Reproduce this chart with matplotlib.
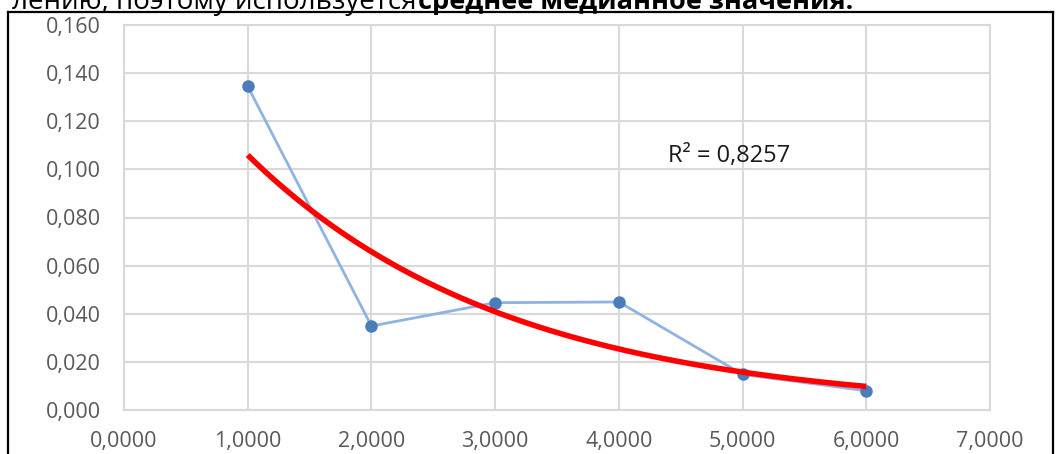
import numpy as np
import matplotlib
matplotlib.use("Agg")
import matplotlib.pyplot as plt
from matplotlib.lines import Line2D

x_vals = [1.0, 2.0, 3.0, 4.0, 5.0, 6.0]
y_vals = [0.1345, 0.0349, 0.0446, 0.0449, 0.0148, 0.0080]
x_ticks = [0, 1, 2, 3, 4, 5, 6, 7]
y_ticks = [0.0, 0.02, 0.04, 0.06, 0.08, 0.10, 0.12, 0.14, 0.16]
r2_label = "R² = 0,8257"
text_normal = "лению, поэтому используется"
text_bold = "среднее медианное значения."

W, H = 1056, 454
fig = plt.figure(figsize=(W / 100, H / 100), dpi=100)
font = "Open Sans"
gray_txt = "#595959"
grid_c = "#d9d9d9"

ax = fig.add_axes([124 / W, 1 - 410 / H, (990 - 124) / W, (410 - 25) / H])
ax.set_xlim(0, 7)
ax.set_ylim(0, 0.16)
ax.set_xticks(x_ticks)
ax.set_yticks(y_ticks)
ax.set_xticklabels([f"{v:.4f}".replace(".", ",") for v in x_ticks], fontfamily=font, fontsize=15.5, color=gray_txt)
ax.set_yticklabels([f"{v:.3f}".replace(".", ",") for v in y_ticks], fontfamily=font, fontsize=15.5, color=gray_txt)
ax.tick_params(axis="y", length=0, pad=16.5)
ax.tick_params(axis="x", length=0, pad=15)
ax.grid(True, color=grid_c, linewidth=1.5)
ax.set_axisbelow(True)
for s in ax.spines.values():
    s.set_color(grid_c)
    s.set_linewidth(1.5)

ax.plot(x_vals, y_vals, color="#8eb4e3", linewidth=2, marker="o", markersize=8,
        markerfacecolor="#4a7ebb", markeredgecolor="#4a7ebb", zorder=3)

# exponential trendline (log-linear fit as in Excel)
xa = np.array(x_vals)
ya = np.array(y_vals)
b, lna = np.polyfit(xa, np.log(ya), 1)
xs = np.linspace(xa.min(), xa.max(), 200)
ax.plot(xs, np.exp(lna + b * xs), color="#ff0000", linewidth=4, zorder=4, solid_capstyle="butt")
ax.text(4.4, 0.1055, r2_label, fontfamily=font, fontsize=17,
        color="#1a1a1a", va="center", ha="left")

# chart border
for xs_, ys_ in [([8 / W, 8 / W], [-0.1, 1 - 12 / H]), ([1053 / W, 1053 / W], [-0.1, 1 - 12 / H]),
                 ([8 / W, 1053 / W], [1 - 12 / H, 1 - 12 / H])]:
    fig.add_artist(Line2D(xs_, ys_, color="black", linewidth=1.6, transform=fig.transFigure))

fig.text(416 / W, 1 - 9 / H, text_normal, fontfamily=font, fontsize=20, ha="right", va="baseline", color="black")
fig.text(418 / W, 1 - 9 / H, text_bold, fontfamily=font, fontsize=19.5, fontweight="bold", ha="left", va="baseline", color="black")

fig.savefig("out.png", dpi=100)
